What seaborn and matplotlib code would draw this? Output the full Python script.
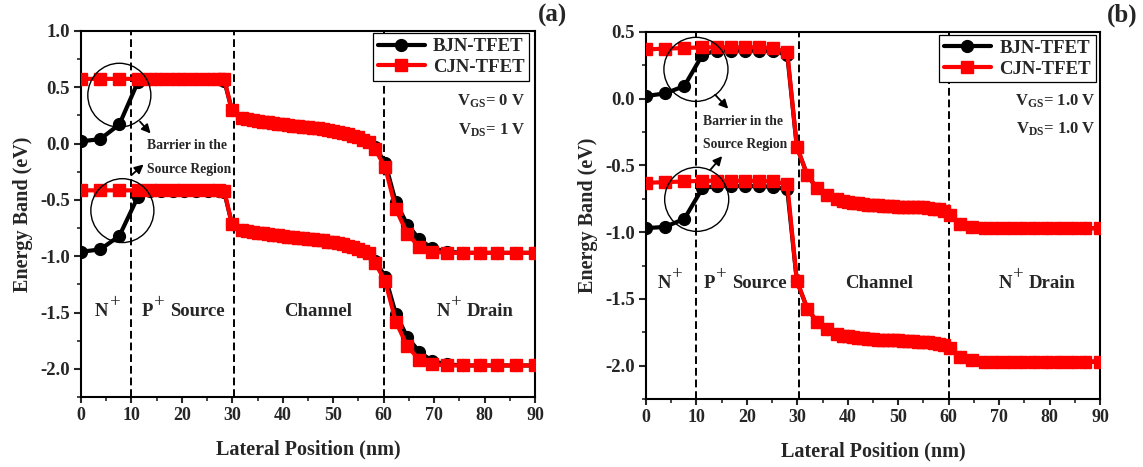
import matplotlib
matplotlib.use("Agg")
import matplotlib.pyplot as plt
import seaborn as sns
from matplotlib.patches import Ellipse
from matplotlib.ticker import MultipleLocator
from matplotlib.transforms import offset_copy
from matplotlib.font_manager import FontProperties
from matplotlib.textpath import TextToPath

# ---------------- data: (a) VGS = 0 V, VDS = 1 V ----------------
x_a_src = [0.0, 3.8, 7.6, 11.3, 13.6, 15.9, 18.2, 20.5, 22.8, 25.1, 27.4, 28.4]
x_a_ch = [29.9, 32.0, 33.0, 34.0, 35.0, 36.0, 37.0, 38.0, 39.0, 40.0, 41.0, 42.0,
          43.0, 44.0, 45.0, 46.0, 47.0, 48.0, 49.0, 50.0, 51.0, 52.0, 53.0, 54.0,
          55.0, 56.0, 57.0]
x_a_dr = [58.3, 60.3, 62.4, 64.7, 67.1, 69.6, 72.6, 75.7, 79.0, 82.5, 86.2, 90.0]

ec_a_bjn_src = [0.02, 0.04, 0.17, 0.55, 0.57, 0.57, 0.57, 0.57, 0.57, 0.57, 0.57, 0.56]
ec_a_cjn_src = [0.575, 0.575, 0.575, 0.575, 0.575, 0.575, 0.575, 0.575, 0.575, 0.575, 0.575, 0.57]
ec_a_ch = [0.30, 0.23, 0.22, 0.21, 0.20, 0.195, 0.19, 0.18, 0.175, 0.17, 0.165, 0.16,
           0.155, 0.15, 0.145, 0.14, 0.135, 0.13, 0.12, 0.115, 0.105, 0.095, 0.085,
           0.07, 0.055, 0.035, 0.015]
ec_a_bjn_dr = [-0.03, -0.17, -0.52, -0.72, -0.85, -0.93, -0.96, -0.97, -0.97, -0.97, -0.97, -0.97]
ec_a_cjn_dr = [-0.05, -0.21, -0.58, -0.80, -0.92, -0.96, -0.97, -0.97, -0.97, -0.97, -0.97, -0.97]

ev_a_bjn_src = [-0.96, -0.94, -0.82, -0.47, -0.42, -0.42, -0.42, -0.42, -0.42, -0.42, -0.42, -0.43]
ev_a_cjn_src = [-0.415, -0.415, -0.415, -0.415, -0.415, -0.415, -0.415, -0.415, -0.415, -0.415, -0.415, -0.42]
ev_a_ch = [-0.71, -0.77, -0.78, -0.785, -0.79, -0.795, -0.80, -0.81, -0.815, -0.82, -0.825,
           -0.83, -0.835, -0.84, -0.845, -0.85, -0.855, -0.86, -0.87, -0.875, -0.885,
           -0.895, -0.905, -0.92, -0.935, -0.955, -0.975]
ev_a_bjn_dr = [-1.04, -1.18, -1.51, -1.72, -1.85, -1.93, -1.96, -1.97, -1.97, -1.97, -1.97, -1.97]
ev_a_cjn_dr = [-1.06, -1.22, -1.58, -1.80, -1.92, -1.96, -1.97, -1.97, -1.97, -1.97, -1.97, -1.97]

# ---------------- data: (b) VGS = 1.0 V, VDS = 1.0 V ----------------
x_b_src = [0.0, 3.8, 7.6, 11.2, 14.0, 16.8, 19.6, 22.4, 25.2, 28.0]
x_b_ch = [29.9, 32.0, 33.9, 35.8, 37.8, 39.0, 40.0, 41.0, 42.0, 43.0, 44.0, 45.0,
          46.0, 47.0, 48.0, 49.0, 50.0, 51.0, 52.0, 53.0, 54.0, 55.0, 56.0, 57.0,
          58.0, 59.0]
x_b_dr = [60.3, 62.3, 64.6, 67.2, 69.6, 72.0, 74.4, 76.9, 79.4, 82.0, 84.5, 87.0, 90.0]

ec_b_bjn_src = [0.02, 0.04, 0.095, 0.33, 0.36, 0.36, 0.36, 0.36, 0.355, 0.33]
ec_b_cjn_src = [0.37, 0.375, 0.38, 0.385, 0.385, 0.385, 0.385, 0.385, 0.38, 0.35]
ec_b_ch = [-0.36, -0.575, -0.67, -0.72, -0.755, -0.765, -0.775, -0.78, -0.785, -0.79,
           -0.795, -0.80, -0.80, -0.805, -0.805, -0.805, -0.81, -0.81, -0.81, -0.81,
           -0.815, -0.815, -0.82, -0.825, -0.83, -0.84]
ec_b_dr = [-0.87, -0.935, -0.96, -0.97, -0.97, -0.97, -0.97, -0.97, -0.97, -0.97, -0.97, -0.97, -0.97]

ev_b_bjn_src = [-0.97, -0.96, -0.90, -0.67, -0.655, -0.655, -0.655, -0.655, -0.66, -0.68]
ev_b_cjn_src = [-0.63, -0.625, -0.62, -0.615, -0.615, -0.615, -0.615, -0.615, -0.62, -0.64]
ev_b_ch = [-1.365, -1.575, -1.67, -1.725, -1.765, -1.775, -1.78, -1.785, -1.79, -1.795,
           -1.80, -1.80, -1.805, -1.805, -1.81, -1.81, -1.81, -1.815, -1.815, -1.815,
           -1.82, -1.82, -1.825, -1.83, -1.835, -1.845]
ev_b_dr = [-1.87, -1.935, -1.96, -1.97, -1.97, -1.97, -1.97, -1.97, -1.97, -1.97, -1.97, -1.97, -1.97]

series_names = ["BJN-TFET", "CJN-TFET"]
# region labels: (base, superscript, remainder)
region_labels = [("N", "+", ""), ("P", "+", "Source"), ("Channel", "", ""), ("N", "+", "Drain")]
bias_a = ["V$_{GS}$= 0 V", "V$_{DS}$= 1 V"]
bias_b = ["V$_{GS}$= 1.0 V", "V$_{DS}$= 1.0 V"]

# ---------------- style ----------------
sns.set_style("ticks")
plt.rcParams.update({
    "font.family": ["Liberation Serif", "DejaVu Serif"],
    "font.weight": "bold",
    "axes.labelweight": "bold",
    "axes.unicode_minus": False,
    "mathtext.fontset": "custom",
    "mathtext.rm": "Liberation Serif:bold",
    "mathtext.bf": "Liberation Serif:bold",
    "mathtext.it": "Liberation Serif:bold",
    "mathtext.default": "bf",
    "axes.linewidth": 1.5,
    "xtick.major.width": 1.5,
    "ytick.major.width": 1.5,
    "xtick.minor.width": 1.2,
    "ytick.minor.width": 1.2,
    "xtick.major.size": 4.5,
    "ytick.major.size": 5,
    "xtick.minor.size": 3,
    "ytick.minor.size": 3,
    "xtick.direction": "out",
    "ytick.direction": "out",
    "axes.edgecolor": "black",
})

fig = plt.figure(figsize=(11.43, 4.67), dpi=100)
ax_a = fig.add_axes([81 / 1143, 1 - 397 / 467, 454 / 1143, 366 / 467])
ax_b = fig.add_axes([646 / 1143, 1 - 399 / 467, 454 / 1143, 367 / 467])

BJN_STYLE = dict(color="black", marker="o", markersize=8.5, linewidth=3,
                 markeredgecolor="black", markeredgewidth=1)
CJN_STYLE = dict(color="red", marker="s", markersize=8, linewidth=3,
                 markeredgecolor="red", markeredgewidth=1)

_ttp = TextToPath()


def text_width_pt(s, size, weight="bold"):
    if not s:
        return 0.0
    fp = FontProperties(family="Liberation Serif", weight=weight, size=size)
    w, _, _ = _ttp.get_text_width_height_descent(s, fp, ismath=False)
    return w


def draw_bands(ax, x, bjn_bands, cjn_bands):
    for yb in bjn_bands:
        sns.lineplot(x=x, y=yb, ax=ax, sort=False, zorder=3, **BJN_STYLE)
    for yc in cjn_bands:
        sns.lineplot(x=x, y=yc, ax=ax, sort=False, zorder=4, **CJN_STYLE)


def style_axes(ax, ylim, ymajor):
    ax.set_xlim(0, 90)
    ax.set_ylim(*ylim)
    ax.xaxis.set_major_locator(MultipleLocator(10))
    ax.xaxis.set_minor_locator(MultipleLocator(5))
    ax.yaxis.set_major_locator(MultipleLocator(ymajor))
    ax.yaxis.set_minor_locator(MultipleLocator(ymajor / 2))
    ax.tick_params(axis="both", which="both", top=False, right=False, pad=3)
    ax.tick_params(axis="x", labelsize=13)
    ax.tick_params(axis="y", labelsize=13.5)
    for lab in ax.get_xticklabels() + ax.get_yticklabels():
        lab.set_fontweight("bold")
    for sp in ax.spines.values():
        sp.set_visible(True)
        sp.set_linewidth(1.5)
    ax.set_xlabel("Lateral Position (nm)", fontsize=14.5, labelpad=11)
    ax.set_ylabel("Energy Band (eV)", fontsize=14.5, labelpad=5)
    for xv in (10, 30.3, 60):
        ax.axvline(xv, color="black", lw=1.4, dashes=(4, 2), zorder=1)


def legend(ax, anchor):
    handles = [plt.Line2D([], [], **BJN_STYLE), plt.Line2D([], [], **CJN_STYLE)]
    leg = ax.legend(handles, series_names, loc="upper right", bbox_to_anchor=anchor,
                    borderaxespad=0, fancybox=False, framealpha=1, edgecolor="black",
                    prop={"size": 13.5, "weight": "bold"}, handlelength=2.5,
                    handletextpad=0.45, labelspacing=0.2, borderpad=0.25)
    leg.get_frame().set_linewidth(0.9)
    leg.set_zorder(6)


def barrier_marks(ax, centers, size, arrows, text_pos):
    for c in centers:
        ax.add_patch(Ellipse(c, width=size[0], height=size[1], fill=False,
                             edgecolor="black", lw=1.0, zorder=5))
    for (x0, y0), (x1, y1) in arrows:
        ax.annotate("", xy=(x1, y1), xytext=(x0, y0),
                    arrowprops=dict(arrowstyle="-|>", color="black", lw=1.3,
                                    mutation_scale=13, shrinkA=0, shrinkB=0),
                    zorder=5)
    tx, ty1, ty2 = text_pos
    ax.text(tx, ty1, "Barrier in the", fontsize=9.8, fontweight="bold",
            ha="left", va="baseline", zorder=5)
    ax.text(tx, ty2, "Source Region", fontsize=9.8, fontweight="bold",
            ha="left", va="baseline", zorder=5)


def region_text(ax, xs, y, fs=13.5):
    # base letter, raised full-size "+" and the remaining word, centred as a group
    sup_raise = 6.5
    gap_before = 1.0
    gap_after = 3.5
    for xv, (base, sup, rest) in zip(xs, region_labels):
        wb = text_width_pt(base, fs)
        ws = text_width_pt(sup, fs, "normal")
        wr = text_width_pt(rest, fs)
        total = wb + (gap_before + ws if sup else 0) + (gap_after + wr if rest else 0)
        x0 = -total / 2
        tr = offset_copy(ax.transData, fig=fig, x=x0, y=0, units="points")
        ax.text(xv, y, base, fontsize=fs, fontweight="bold", ha="left",
                va="baseline", transform=tr)
        cur = x0 + wb
        if sup:
            cur += gap_before
            tr = offset_copy(ax.transData, fig=fig, x=cur, y=sup_raise, units="points")
            ax.text(xv, y, sup, fontsize=fs, fontweight="normal", ha="left",
                    va="baseline", transform=tr)
            cur += ws
        if rest:
            cur += gap_after
            tr = offset_copy(ax.transData, fig=fig, x=cur, y=0, units="points")
            ax.text(xv, y, rest, fontsize=fs, fontweight="bold", ha="left",
                    va="baseline", transform=tr)


def bias_text(ax, x, ys, labels):
    for yv, lab in zip(ys, labels):
        ax.text(x, yv, lab, fontsize=12, fontweight="bold", ha="right", va="baseline")


# ---------------- panel (a) ----------------
xa = x_a_src + x_a_ch + x_a_dr
draw_bands(
    ax_a, xa,
    [ec_a_bjn_src + ec_a_ch + ec_a_bjn_dr, ev_a_bjn_src + ev_a_ch + ev_a_bjn_dr],
    [ec_a_cjn_src + ec_a_ch + ec_a_cjn_dr, ev_a_cjn_src + ev_a_ch + ev_a_cjn_dr],
)
style_axes(ax_a, (-2.25, 1.0), 0.5)
legend(ax_a, (0.9874, 0.9937))
barrier_marks(ax_a, [(7.6, 0.43), (8.2, -0.595)], (12.5, 0.567),
              [((11.7, 0.195), (13.8, 0.09)), ((10.0, -0.28), (12.4, -0.185))],
              (13.0, -0.047, -0.262))
region_text(ax_a, [5.3, 20.2, 46.9, 78.1], -1.53)
bias_text(ax_a, 88.1, [0.334, 0.083], bias_a)

# ---------------- panel (b) ----------------
xb = x_b_src + x_b_ch + x_b_dr
draw_bands(
    ax_b, xb,
    [ec_b_bjn_src + ec_b_ch + ec_b_dr, ev_b_bjn_src + ev_b_ch + ev_b_dr],
    [ec_b_cjn_src + ec_b_ch + ec_b_dr, ev_b_cjn_src + ev_b_ch + ev_b_dr],
)
style_axes(ax_b, (-2.25, 0.5), 0.5)
legend(ax_b, (0.9905, 0.9918))
barrier_marks(ax_b, [(9.9, 0.22), (10.05, -0.754)], (12.7, 0.48),
              [((13.7, 0.03), (16.3, -0.075)), ((12.7, -0.535), (15.1, -0.43))],
              (11.25, -0.197, -0.372))
region_text(ax_b, [4.8, 19.6, 46.2, 77.5], -1.417)
bias_text(ax_b, 89.1, [-0.055, -0.26], bias_b)

# panel tags
fig.text(567 / 1143, 1 - 15 / 467, "(a)", fontsize=18, fontweight="bold",
         ha="right", va="center")
fig.text(1137 / 1143, 1 - 15 / 467, "(b)", fontsize=18, fontweight="bold",
         ha="right", va="center")

fig.savefig("out.png", dpi=100, facecolor="white")
